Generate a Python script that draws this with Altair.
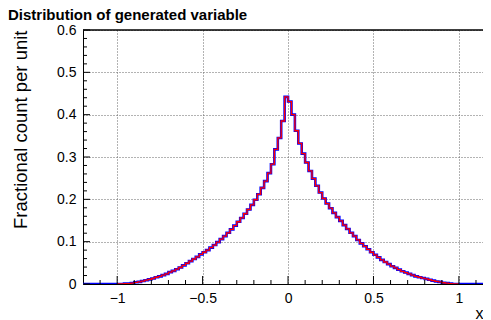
import altair as alt
import pandas as pd
import numpy as np

# Histogram contents (fractional count per unit), bins of width 0.02
# left half: bins starting at -1.00, -0.98, ..., -0.02
left_vals = [0.0, 0.0, 0.001, 0.001, 0.002, 0.004, 0.005, 0.007, 0.009, 0.011,
             0.013, 0.016, 0.018, 0.021, 0.024, 0.028, 0.031, 0.035, 0.039, 0.044,
             0.049, 0.054, 0.059, 0.064, 0.070, 0.075, 0.080, 0.086, 0.092, 0.099,
             0.106, 0.113, 0.121, 0.129, 0.138, 0.147, 0.156, 0.166, 0.176, 0.187,
             0.199, 0.212, 0.227, 0.243, 0.262, 0.283, 0.318, 0.345, 0.385, 0.442]
# right half: bins starting at 0.00, 0.02, ..., 0.98
right_vals = [0.431, 0.400, 0.362, 0.332, 0.308, 0.287, 0.267, 0.249, 0.232, 0.216,
              0.202, 0.190, 0.179, 0.168, 0.158, 0.149, 0.139, 0.130, 0.121, 0.113,
              0.104, 0.096, 0.089, 0.082, 0.075, 0.069, 0.063, 0.057, 0.052, 0.047,
              0.042, 0.038, 0.034, 0.030, 0.027, 0.024, 0.021, 0.018, 0.016, 0.014,
              0.012, 0.010, 0.008, 0.006, 0.005, 0.003, 0.002, 0.001, 0.0, 0.0]
outside_vals = [0.0] * 10

x_major = [-1, -0.5, 0, 0.5, 1]
x_minor = [-1.1, -0.9, -0.8, -0.7, -0.6, -0.4, -0.3, -0.2, -0.1,
           0.1, 0.2, 0.3, 0.4, 0.6, 0.7, 0.8, 0.9, 1.1]
y_major = [0, 0.1, 0.2, 0.3, 0.4, 0.5, 0.6]
y_minor = [round(0.02 * i, 2) for i in range(31) if i % 5 != 0]

W, H = 400, 254
FONT = "Liberation Sans"

blue_vals = outside_vals + left_vals + right_vals + outside_vals
blue_edges = np.round(np.linspace(-1.2, 1.2, 121), 2)
blue_df = pd.DataFrame({"x": blue_edges, "y": blue_vals + [blue_vals[-1]]})

red_vals = left_vals + right_vals
red_edges = np.round(np.linspace(-1.0, 1.0, 101), 2)
red_df = pd.DataFrame({"x": red_edges, "y": red_vals + [red_vals[-1]]})

# the reference frame runs past the right edge of the picture
xs = alt.Scale(domain=[-1.2, 1.141], nice=False, zero=False)
ys = alt.Scale(domain=[0, 0.6], nice=False)

xaxis = alt.Axis(
    values=x_major, format="~g", grid=True, ticks=False,
    labelFont=FONT, labelFontSize=14, labelColor="black", labelPadding=7,
    domain=True, domainColor="black", domainWidth=1,
    gridColor="#666", gridDash=[1, 2], gridWidth=1,
    title="x", titleFont=FONT, titleFontSize=16, titleFontWeight="normal",
    titleX=W, titleY=34, titleAlign="right", titleBaseline="alphabetic",
    titleColor="black")
yaxis = alt.Axis(
    values=y_major, format=".1~f", grid=True, ticks=False,
    labelFont=FONT, labelFontSize=14, labelColor="black", labelPadding=7,
    domain=True, domainColor="black", domainWidth=1,
    gridColor="#666", gridDash=[1, 2], gridWidth=1,
    title="Fractional count per unit", titleFont=FONT, titleFontSize=18.5,
    titleFontWeight="normal", titleColor="black",
    titleX=-57, titleY=0, titleAlign="right", titleBaseline="alphabetic",
    titleAngle=270)

blue = alt.Chart(blue_df).mark_line(
    color="#0000ff", strokeWidth=2.6, interpolate="step-after", clip=True
).encode(x=alt.X("x:Q", scale=xs, axis=xaxis), y=alt.Y("y:Q", scale=ys, axis=yaxis))

red = alt.Chart(red_df).mark_line(
    color="#ff0000", strokeWidth=1.3, interpolate="step-after", clip=True
).encode(x=alt.X("x:Q", scale=xs, axis=xaxis), y=alt.Y("y:Q", scale=ys, axis=yaxis))

xmaj = alt.Chart(pd.DataFrame({"x": x_major})).mark_rule(color="black", strokeWidth=1).encode(
    x=alt.X("x:Q", scale=xs, axis=xaxis), y=alt.value(H), y2=alt.value(H - 8))
xmin = alt.Chart(pd.DataFrame({"x": x_minor})).mark_rule(color="black", strokeWidth=1).encode(
    x=alt.X("x:Q", scale=xs, axis=xaxis), y=alt.value(H), y2=alt.value(H - 4))
ymaj = alt.Chart(pd.DataFrame({"y": y_major})).mark_rule(color="black", strokeWidth=1).encode(
    y=alt.Y("y:Q", scale=ys, axis=yaxis), x=alt.value(0), x2=alt.value(7))
ymin = alt.Chart(pd.DataFrame({"y": y_minor})).mark_rule(color="black", strokeWidth=1).encode(
    y=alt.Y("y:Q", scale=ys, axis=yaxis), x=alt.value(0), x2=alt.value(4))
top = alt.Chart(pd.DataFrame({"y": [0.6]})).mark_rule(color="black", strokeWidth=1.5).encode(
    y=alt.Y("y:Q", scale=ys, axis=yaxis), x=alt.value(0), x2=alt.value(W))

chart = alt.layer(blue, red, xmin, xmaj, ymin, ymaj, top).properties(
    width=W, height=H,
    autosize=alt.AutoSizeParams(type="none"),
    padding={"left": 75, "top": 22, "right": 0, "bottom": 36},
    title=alt.TitleParams("Distribution of generated variable", anchor="start",
                          font=FONT, fontSize=15, fontWeight="bold", color="black",
                          dx=-75, dy=4, offset=4, frame="group"),
).configure_view(stroke=None)

chart.save("out.html", embed_options={"renderer": "svg", "actions": False})
